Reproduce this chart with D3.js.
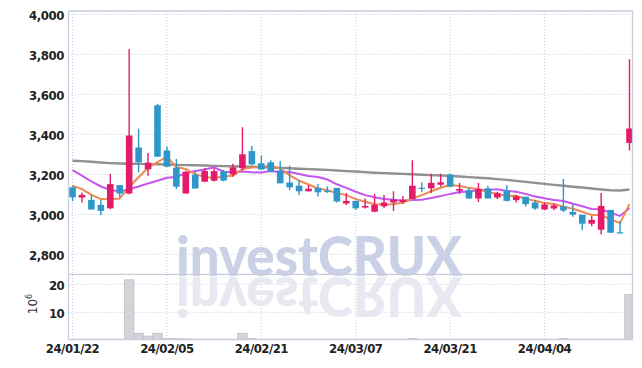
<!DOCTYPE html>
<html>
<head>
<meta charset="utf-8">
<script src="https://cdn.jsdelivr.net/npm/d3@7"></script>
<style>
  html, body { margin: 0; padding: 0; background: #fff; }
  svg { display: block; }
  .tick-label { font-family: "DejaVu Sans Condensed", "DejaVu Sans", sans-serif; font-weight: bold; font-size: 13px; fill: #222; }
</style>
</head>
<body>
<svg id="chart" width="642" height="368"></svg>
<script>
// ---- data ----
const dates = ["24/01/22","24/01/23","24/01/24","24/01/25","24/01/26","24/01/29","24/01/30","24/01/31",
  "24/02/01","24/02/02","24/02/05","24/02/06","24/02/07","24/02/08","24/02/13","24/02/14","24/02/15","24/02/16",
  "24/02/19","24/02/20","24/02/21","24/02/22","24/02/23","24/02/26","24/02/27","24/02/28","24/02/29",
  "24/03/04","24/03/05","24/03/06","24/03/07","24/03/08","24/03/11","24/03/12","24/03/13","24/03/14","24/03/15",
  "24/03/18","24/03/19","24/03/20","24/03/21","24/03/22","24/03/25","24/03/26","24/03/27","24/03/28","24/03/29",
  "24/04/01","24/04/02","24/04/03","24/04/04","24/04/05","24/04/08","24/04/09","24/04/11","24/04/12","24/04/15",
  "24/04/16","24/04/17","24/04/18"];
const open  = [3135,3084,3072,3047,3030,3146,3104,3334,3225,3545,3319,3233,3104,3198,3163,3168,3214,3199,3231,3316,
  3255,3260,3219,3159,3143,3115,3132,3118,3132,3054,3067,3034,3013,3040,3059,3062,3076,3133,3130,3148,
  3199,3118,3121,3079,3130,3084,3118,3071,3088,3059,3024,3029,3040,3012,2998,2953,2923,3022,2910,3357];
const high  = [3140,3109,3096,3072,3201,3146,3825,3428,3307,3553,3339,3277,3218,3215,3230,3230,3223,3253,3435,3341,
  3294,3270,3267,3243,3172,3147,3152,3140,3132,3106,3067,3079,3101,3096,3115,3091,3270,3160,3203,3203,
  3203,3157,3135,3157,3143,3113,3147,3096,3088,3071,3060,3054,3176,3050,2998,2992,3106,3022,2967,3775];
const low   = [3065,3059,3024,2995,3025,3084,3100,3210,3193,3288,3238,3126,3104,3129,3160,3164,3164,3189,3219,3245,
  3224,3211,3155,3121,3096,3115,3089,3106,3059,3046,3022,3029,3010,3030,3017,3052,3076,3110,3106,3138,
  3135,3101,3079,3061,3079,3076,3064,3059,3039,3022,3020,3020,3012,2988,2920,2940,2899,2908,2905,3319];
const close = [3085,3097,3024,3017,3151,3104,3394,3260,3258,3288,3238,3138,3213,3129,3216,3216,3169,3235,3300,3250,
  3224,3211,3155,3135,3115,3128,3110,3111,3064,3067,3030,3042,3047,3059,3073,3073,3143,3130,3157,3160,
  3138,3127,3079,3127,3079,3105,3067,3089,3051,3029,3049,3044,3019,2998,2953,2972,3042,2908,2905,3429];
// volume in millions of shares
const volume = [0.1,0.1,0.1,0.1,0.1,0.1,21.6,2.5,1.5,2.5,0.6,0.6,0.5,0.1,0.1,0.1,0.1,0.1,2.5,0.6,
  0.1,0.1,0.1,0.1,0.1,0.1,0.1,0.1,0.1,0.1,0.1,0.1,0.1,0.1,0.1,0.1,0.6,0.1,0.1,0.1,
  0.1,0.1,0.1,0.1,0.1,0.1,0.1,0.1,0.1,0.1,0.1,0.1,0.6,0.1,0.1,0.1,0.1,0.1,0.1,16.4];
const ma5 = [3143,3126,3097,3076,3075,3079,3138,3185,3233,3261,3288,3236,3227,3201,3187,3182,3189,3193,3227,3234,
  3236,3244,3228,3195,3168,3149,3129,3120,3106,3096,3076,3063,3050,3049,3050,3059,3079,3096,3115,3133,
  3146,3142,3132,3126,3110,3103,3091,3093,3078,3068,3057,3052,3038,3028,3013,2997,2997,2975,2956,3051];
const ma10 = [3221,3193,3164,3139,3122,3114,3126,3139,3154,3168,3183,3187,3206,3217,3224,3235,3213,3210,3214,3210,
  3209,3216,3210,3211,3201,3192,3186,3174,3150,3132,3113,3096,3085,3077,3073,3068,3071,3073,3082,3091,
  3102,3111,3114,3121,3121,3125,3117,3113,3102,3089,3080,3072,3066,3053,3040,3027,3025,3007,2992,3032];
const maLong = [3268,3266,3263,3259,3256,3254,3253,3252,3251,3250,3249,3247,3246,3245,3244,3242,3241,3240,3239,3238,
  3236,3234,3232,3230,3228,3226,3224,3222,3219,3216,3214,3211,3208,3206,3204,3202,3200,3198,3196,3194,
  3192,3189,3186,3183,3180,3176,3172,3167,3162,3157,3152,3147,3143,3138,3134,3129,3124,3120,3119,3124];
const priceTicks = [2800,3000,3200,3400,3600,3800,4000];
const volumeTicks = [10,20];
const dateTickIdx = [0,10,20,30,40,50];

// ---- layout ----
const svg = d3.select("#chart");
const L = 68.5, R = 632.5;
const pTop = 11, pBot = 274.3, vBot = 339.5;
const UP = "#e31b6b", DOWN = "#2f96c9";

const x = d3.scaleBand().domain(d3.range(dates.length)).range([67.8, 634.2]).paddingInner(0).paddingOuter(0);
const cx = i => x(i) + x.bandwidth() / 2;
const y = d3.scaleLinear().domain([2800, 4000]).range([254.3, 14.3]);
const yv = d3.scaleLinear().domain([0, 20]).range([340.3, 284.3]);

const defs = svg.append("defs");
defs.append("clipPath").attr("id", "clipP").append("rect").attr("x", L).attr("y", pTop).attr("width", R - L).attr("height", pBot - pTop);
defs.append("clipPath").attr("id", "clipV").append("rect").attr("x", L).attr("y", pBot).attr("width", R - L).attr("height", vBot - pBot);

// grid
const grid = svg.append("g").attr("stroke", "#c3c7da").attr("stroke-width", 1).attr("stroke-dasharray", "1,2");
grid.selectAll(".hp").data(priceTicks).join("line")
  .attr("x1", L).attr("x2", R).attr("y1", d => y(d)).attr("y2", d => y(d));
grid.selectAll(".hv").data(volumeTicks).join("line")
  .attr("x1", L).attr("x2", R).attr("y1", d => yv(d)).attr("y2", d => yv(d));
grid.selectAll(".vx").data(dateTickIdx).join("line")
  .attr("x1", d => cx(d)).attr("x2", d => cx(d)).attr("y1", pTop).attr("y2", vBot);

// watermark
const wm = svg.append("g").attr("font-family", "Lato, 'Liberation Sans', Arial, sans-serif").attr("font-weight", 900).attr("font-size", 56);
wm.append("text").attr("x", 176).attr("y", 276).attr("textLength", 286).attr("lengthAdjust", "spacingAndGlyphs")
  .attr("fill", "#cad0e6").text("investCRUX");
wm.append("text").attr("transform", "translate(0,553) scale(1,-1)").attr("x", 176).attr("y", 276)
  .attr("textLength", 286).attr("lengthAdjust", "spacingAndGlyphs")
  .attr("fill", "#e7e8f0").text("investCRUX");

// volume bars
svg.append("g").attr("clip-path", "url(#clipV)")
  .selectAll("rect").data(volume).join("rect")
  .attr("x", (d, i) => x(i)).attr("width", x.bandwidth())
  .attr("y", d => yv(d)).attr("height", d => yv(0) - yv(d))
  .attr("fill", "#d3d3d9").attr("stroke", "#bdbdc6").attr("stroke-width", 0.8);

// moving averages
const plot = svg.append("g").attr("clip-path", "url(#clipP)");
const line = arr => d3.line().x((d, i) => cx(i)).y(d => y(d))(arr);
plot.append("path").attr("d", line(maLong)).attr("fill", "none").attr("stroke", "#7d7d7d").attr("stroke-width", 2.4).attr("stroke-opacity", 0.85);
plot.append("path").attr("d", line(ma10)).attr("fill", "none").attr("stroke", "#c455ee").attr("stroke-width", 2);
plot.append("path").attr("d", line(ma5)).attr("fill", "none").attr("stroke", "#ee8a52").attr("stroke-width", 2);

// candles
const candles = plot.selectAll(".c").data(dates.map((d, i) => i)).join("g");
candles.append("line")
  .attr("x1", i => cx(i)).attr("x2", i => cx(i))
  .attr("y1", i => y(high[i])).attr("y2", i => y(low[i]))
  .attr("stroke", i => close[i] >= open[i] ? UP : DOWN).attr("stroke-width", 1.4);
candles.append("rect")
  .attr("x", i => cx(i) - 3.3).attr("width", 6.6)
  .attr("y", i => y(Math.max(open[i], close[i])))
  .attr("height", i => Math.max(1.2, Math.abs(y(open[i]) - y(close[i]))))
  .attr("fill", i => close[i] >= open[i] ? UP : DOWN);

// frame
const frame = svg.append("g").attr("stroke", "#c9ccd9").attr("stroke-width", 1.3).attr("fill", "none");
frame.append("line").attr("x1", L).attr("x2", R).attr("y1", pTop).attr("y2", pTop);
frame.append("line").attr("x1", L).attr("x2", R).attr("y1", pBot).attr("y2", pBot);
frame.append("line").attr("x1", L).attr("x2", R).attr("y1", vBot).attr("y2", vBot);
frame.append("line").attr("x1", L).attr("x2", L).attr("y1", pTop).attr("y2", vBot);
frame.append("line").attr("x1", R).attr("x2", R).attr("y1", pTop).attr("y2", vBot);

// axes labels
const fmt = d3.format(",");
const yAxis = d3.axisLeft(y).tickValues(priceTicks).tickFormat(fmt).tickSize(0).tickPadding(0);
const gy = svg.append("g").attr("transform", "translate(64,1)").call(yAxis);
gy.select(".domain").remove();
gy.selectAll("text").attr("class", "tick-label").attr("letter-spacing", "-0.4");

const vAxis = d3.axisLeft(yv).tickValues(volumeTicks).tickFormat(d3.format("d")).tickSize(0).tickPadding(0);
const gv = svg.append("g").attr("transform", "translate(64,1)").call(vAxis);
gv.select(".domain").remove();
gv.selectAll("text").attr("class", "tick-label").attr("letter-spacing", "-0.6");

const xAxis = d3.axisBottom(x).tickValues(dateTickIdx).tickFormat(i => dates[i]).tickSize(0).tickPadding(0);
const gx = svg.append("g").attr("transform", "translate(0,344)").call(xAxis);
gx.select(".domain").remove();
gx.selectAll("text").attr("class", "tick-label").attr("letter-spacing", "-0.5");

// 10^6 unit label
const unit = svg.append("text").attr("transform", "translate(37,304) rotate(-90)")
  .attr("text-anchor", "middle").attr("font-family", "DejaVu Sans, sans-serif").attr("font-size", 12).attr("fill", "#333");
unit.append("tspan").text("10");
unit.append("tspan").attr("dy", -5).attr("font-size", 8).text("6");
</script>
</body>
</html>
